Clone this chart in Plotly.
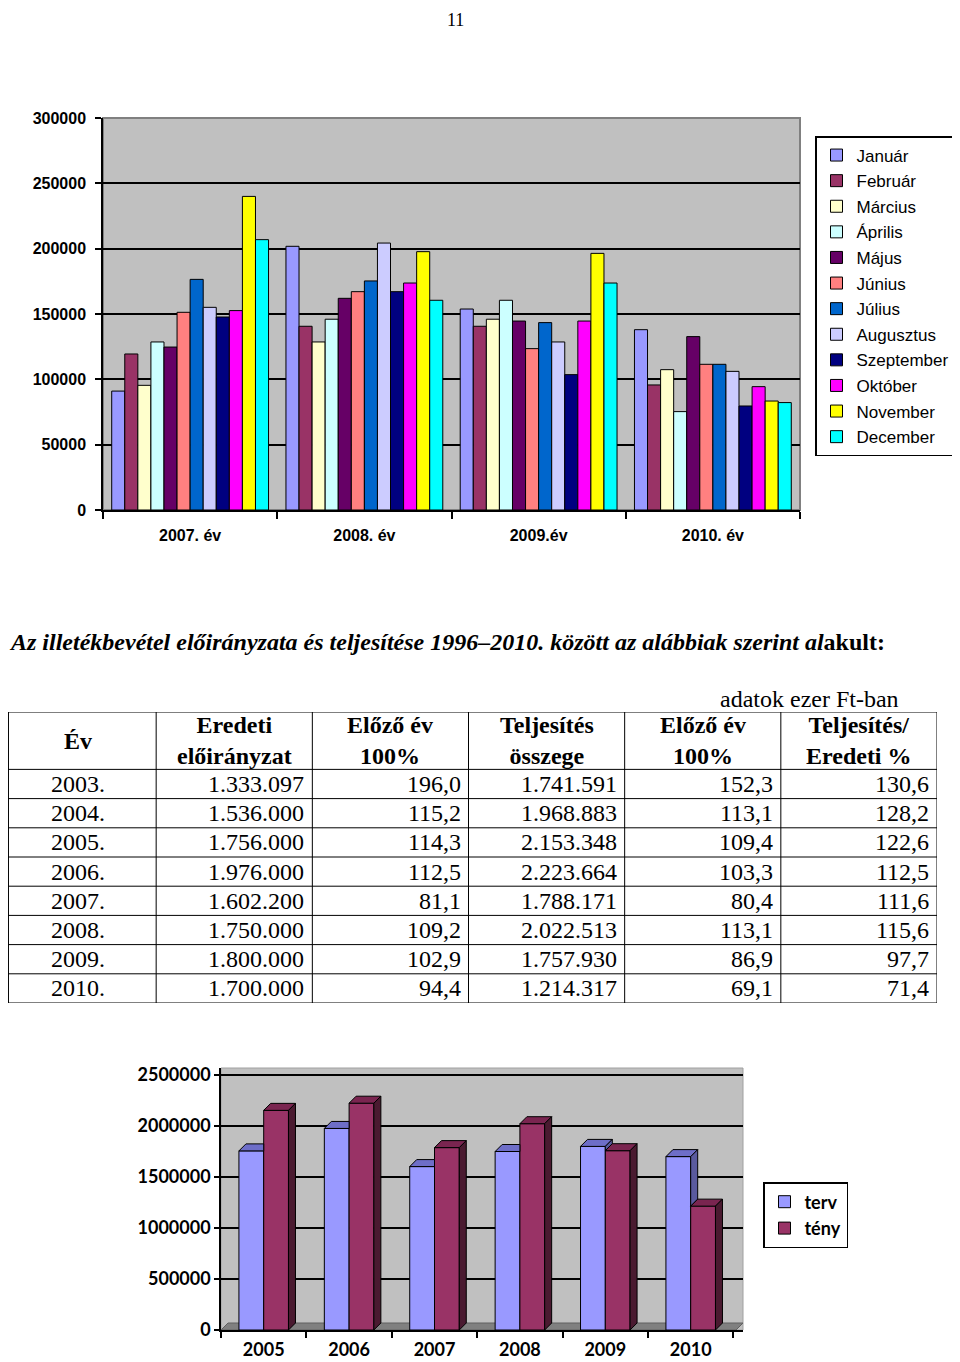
import plotly.graph_objects as go

# The page body has an 8px margin, so the figure is offset by 8px.
OFF = 8
FW, FH = 952, 1354


def px_x(x):
    return (x - OFF) / FW


def px_y(y):
    return 1 - (y - OFF) / FH


# ---------------- top chart data ----------------
months = ["Január", "Február", "Március", "Április", "Május", "Június",
          "Július", "Augusztus", "Szeptember", "Október", "November", "December"]
month_colors = ["#9999FF", "#993366", "#FFFFCC", "#CCFFFF", "#660066", "#FF8080",
                "#0066CC", "#CCCCFF", "#000080", "#FF00FF", "#FFFF00", "#00FFFF"]
groups_top = ["2007. év", "2008. év", "2009.év", "2010. év"]
v2007 = [91000, 119400, 95400, 128600, 124700, 151300, 176500, 155100, 147700, 152600, 240000, 206900]
v2008 = [201800, 140600, 128600, 146000, 162000, 167100, 175300, 204300, 167100, 173700, 197700, 160500]
v2009 = [153800, 140600, 146000, 160500, 144600, 123500, 143400, 128600, 103600, 144600, 196400, 173700]
v2010 = [138000, 95700, 107400, 75300, 132700, 111500, 111500, 106100, 79600, 94400, 83400, 82200]
top_ticks = [0, 50000, 100000, 150000, 200000, 250000, 300000]

# ---------------- table data ----------------
tbl_headers = ["<b>Év</b>", "<b>Eredeti<br>előirányzat</b>", "<b>Előző év<br>100%</b>",
               "<b>Teljesítés<br>összege</b>", "<b>Előző év<br>100%</b>", "<b>Teljesítés/<br>Eredeti %</b>"]
tbl_years = ["2003.", "2004.", "2005.", "2006.", "2007.", "2008.", "2009.", "2010."]
tbl_eredeti = ["1.333.097", "1.536.000", "1.756.000", "1.976.000", "1.602.200", "1.750.000", "1.800.000", "1.700.000"]
tbl_elozo1 = ["196,0", "115,2", "114,3", "112,5", "81,1", "109,2", "102,9", "94,4"]
tbl_telj = ["1.741.591", "1.968.883", "2.153.348", "2.223.664", "1.788.171", "2.022.513", "1.757.930", "1.214.317"]
tbl_elozo2 = ["152,3", "113,1", "109,4", "103,3", "80,4", "113,1", "86,9", "69,1"]
tbl_arany = ["130,6", "128,2", "122,6", "112,5", "111,6", "115,6", "97,7", "71,4"]
tbl_align = ["center", "right", "right", "right", "right", "right"]

# ---------------- bottom chart data ----------------
years_b = ["2005", "2006", "2007", "2008", "2009", "2010"]
terv = [1756000, 1976000, 1602200, 1750000, 1800000, 1700000]
teny = [2153348, 2223664, 1788171, 2022513, 1757930, 1214317]
bottom_ticks = [0, 500000, 1000000, 1500000, 2000000, 2500000]

serif = "Liberation Serif"
sans = "Liberation Sans"
lato = "Lato"

fig = go.Figure()

# ---- top chart bars ----
by_year = [v2007, v2008, v2009, v2010]
for i, m in enumerate(months):
    fig.add_trace(go.Bar(
        x=list(range(len(groups_top))), y=[yr[i] for yr in by_year], name=m,
        marker=dict(color=month_colors[i], line=dict(color="black", width=1)),
        xaxis="x", yaxis="y", legend="legend", legendgroup=m,
    ))

# ---- bottom chart bars ----
xs = list(range(len(years_b)))
bw = 0.29
fig.add_trace(go.Bar(x=xs, y=terv, width=bw, offset=-bw, name="terv",
                     marker=dict(color="#9999FF", line=dict(color="black", width=1)),
                     xaxis="x2", yaxis="y2", legend="legend2", legendgroup="terv"))
fig.add_trace(go.Bar(x=xs, y=teny, width=bw, offset=0, name="tény",
                     marker=dict(color="#993366", line=dict(color="black", width=1)),
                     xaxis="x2", yaxis="y2", legend="legend2", legendgroup="teny"))

# 3D faces derived from the data
x_per_px = 1 / 85.4
y_per_px = 2500000 / 255
dx = 7 * x_per_px
dy = 7 * y_per_px
x2_max = -0.5 + 522 / 85.4


def poly_trace(xx, yy, color):
    return go.Scatter(x=xx, y=yy, fill="toself", fillcolor=color, mode="lines",
                      line=dict(color="black", width=1), showlegend=False,
                      hoverinfo="skip", xaxis="x2", yaxis="y2")


tt_x, tt_y, ts_x, ts_y = [], [], [], []
for c, a, b in zip(xs, terv, teny):
    x0 = c - bw
    if b >= a:
        tt_x += [x0, x0 + dx, c, c, x0, None]
        tt_y += [a, a + dy, a + dy, a, a, None]
    else:
        tt_x += [x0, x0 + dx, c + dx, c, x0, None]
        tt_y += [a, a + dy, a + dy, a, a, None]
        ts_x += [c, c, c + dx, c + dx, c, None]
        ts_y += [b, a, a + dy, b + dy, b, None]
fig.add_trace(poly_trace(tt_x, tt_y, "#6E6EC8"))
if ts_x:
    fig.add_trace(poly_trace(ts_x, ts_y, "#5A5A9E"))

nt_x, nt_y, ns_x, ns_y = [], [], [], []
for c, b in zip(xs, teny):
    x1 = c + bw
    nt_x += [c, c + dx, x1 + dx, x1, c, None]
    nt_y += [b, b + dy, b + dy, b, b, None]
    ns_x += [x1, x1, x1 + dx, x1 + dx, x1, None]
    ns_y += [0, b, b + dy, dy, 0, None]
fig.add_trace(poly_trace(nt_x, nt_y, "#7A2550"))
fig.add_trace(poly_trace(ns_x, ns_y, "#4A1A30"))

# ---- table (drawn on its own hidden axes: x in column units, y in row units) ----
n_cols = len(tbl_headers)
n_rows = len(tbl_years)
col_px = 937 / n_cols           # column width in page pixels
row_px = 29                     # body row height in page pixels
hdr = 57 / row_px               # header height in row units
x3_min = OFF / col_px           # page x = 0 is hidden by the body margin

shapes = [
    # top chart wall
    dict(type="rect", xref="x domain", yref="y domain", x0=0, x1=1, y0=0, y1=1,
         fillcolor="#C0C0C0", line=dict(color="#808080", width=2), layer="below"),
    # bottom chart wall
    dict(type="rect", xref="x2 domain", yref="y2 domain", x0=0, x1=1, y0=0, y1=1,
         fillcolor="#C0C0C0", line=dict(color="#A0A0A0", width=1), layer="below"),
    # bottom chart floor
    dict(type="path", xref="x2", yref="y2", layer="below",
         path=f"M -0.5,0 L {-0.5 + dx},{dy} L {x2_max},{dy} L {x2_max - dx},0 Z",
         fillcolor="#808080", line=dict(color="#606060", width=1)),
]

line_k = dict(color="black", width=1)
for k in range(n_cols + 1):
    shapes.append(dict(type="line", xref="x3", yref="y3", x0=max(k, x3_min + 0.003), x1=max(k, x3_min + 0.003),
                       y0=0, y1=hdr + n_rows, line=line_k, layer="above"))
for r in [0] + [hdr + i for i in range(n_rows + 1)]:
    shapes.append(dict(type="line", xref="x3", yref="y3", x0=x3_min, x1=n_cols,
                       y0=r, y1=r, line=line_k, layer="above"))

annotations = [
    dict(text="11", x=px_x(455), y=1, xref="paper", yref="paper",
         showarrow=False, xanchor="center", yanchor="top",
         font=dict(family=serif, size=18, color="black")),
    dict(text="<b><i>Az illetékbevétel előirányzata és teljesítése 1996–2010. között az alábbiak szerint al</i>akult:</b>",
         x=px_x(7), y=px_y(642), xref="paper", yref="paper",
         showarrow=False, xanchor="left", yanchor="middle",
         font=dict(family=serif, size=24, color="black")),
    dict(text="adatok ezer Ft-ban", x=px_x(901), y=px_y(699), xref="paper", yref="paper",
         showarrow=False, xanchor="right", yanchor="middle",
         font=dict(family=serif, size=24, color="black")),
]

for k, h in enumerate(tbl_headers):
    annotations.append(dict(text=h, x=k + 0.5, y=hdr / 2, xref="x3", yref="y3",
                            showarrow=False, xanchor="center", yanchor="middle",
                            font=dict(family=serif, size=24, color="black")))
columns = [tbl_years, tbl_eredeti, tbl_elozo1, tbl_telj, tbl_elozo2, tbl_arany]
for k, col in enumerate(columns):
    for i, val in enumerate(col):
        if tbl_align[k] == "center":
            annotations.append(dict(text=val, x=k + 0.5, y=hdr + i + 0.5, xref="x3", yref="y3",
                                    showarrow=False, xanchor="center", yanchor="middle",
                                    font=dict(family=serif, size=24, color="black")))
        else:
            annotations.append(dict(text=val, x=k + 1, y=hdr + i + 0.5, xref="x3", yref="y3",
                                    showarrow=False, xanchor="right", yanchor="middle", xshift=-6,
                                    font=dict(family=serif, size=24, color="black")))

fig.update_layout(
    width=FW, height=FH, margin=dict(l=0, r=0, t=0, b=0, autoexpand=False),
    paper_bgcolor="white", plot_bgcolor="white",
    barmode="group", bargap=0.1, bargroupgap=0,
    showlegend=True,
    xaxis=dict(domain=[px_x(103), px_x(800)], range=[-0.5, 3.5], anchor="y",
               tickvals=list(range(4)), ticktext=groups_top,
               ticks="outside", ticklen=10, tickcolor="rgba(0,0,0,0)",
               minor=dict(tickvals=[-0.5, 0.5, 1.5, 2.5, 3.5], ticks="outside",
                          ticklen=7, tickcolor="black", tickwidth=1.5),
               showline=True, linecolor="black", linewidth=1.5, showgrid=False,
               tickfont=dict(family=sans, size=16, color="black", weight="bold"),
               automargin=False, fixedrange=True),
    yaxis=dict(domain=[px_y(510), px_y(118)], range=[0, 300000], anchor="x",
               tickvals=top_ticks, tickformat="d",
               ticks="outside", ticklen=6, tickcolor="black", tickwidth=1.5,
               ticklabelstandoff=6,
               showline=True, linecolor="black", linewidth=1.5,
               showgrid=True, gridcolor="black", gridwidth=1.5, zeroline=False,
               tickfont=dict(family=sans, size=16, color="black", weight="bold"),
               automargin=False, fixedrange=True),
    xaxis2=dict(domain=[px_x(221), px_x(743)], range=[-0.5, x2_max], anchor="y2",
                tickvals=xs, ticktext=years_b,
                ticks="outside", ticklen=3, tickcolor="rgba(0,0,0,0)",
                minor=dict(tickvals=[i - 0.5 for i in range(len(years_b) + 1)], ticks="outside",
                           ticklen=6, tickcolor="black", tickwidth=1.5),
                showline=True, linecolor="black", linewidth=1.5, showgrid=False,
                tickfont=dict(family=lato, size=18, color="black", weight="bold"),
                automargin=False, fixedrange=True),
    yaxis2=dict(domain=[px_y(1330), px_y(1068)], range=[0, 2500000 * 262 / 255], anchor="x2",
                tickvals=bottom_ticks, tickformat="d",
                ticks="outside", ticklen=5, tickcolor="black", tickwidth=1.5,
                showline=True, linecolor="black", linewidth=1.5,
                showgrid=True, gridcolor="black", gridwidth=1.5, zeroline=False,
                tickfont=dict(family=lato, size=18, color="black", weight="bold"),
                automargin=False, fixedrange=True),
    xaxis3=dict(domain=[0, px_x(937)], range=[x3_min, n_cols], anchor="y3",
                visible=False, showgrid=False, zeroline=False, fixedrange=True),
    yaxis3=dict(domain=[px_y(1003), px_y(712)], range=[hdr + n_rows, 0], anchor="x3",
                visible=False, showgrid=False, zeroline=False, fixedrange=True),
    legend=dict(x=px_x(815), y=px_y(136), xanchor="left", yanchor="top",
                bordercolor="black", borderwidth=1.5, bgcolor="white",
                font=dict(family=sans, size=17, color="black"),
                tracegroupgap=0.5, itemwidth=30, traceorder="grouped"),
    legend2=dict(x=px_x(763), y=px_y(1182), xanchor="left", yanchor="top",
                 bordercolor="black", borderwidth=1.5, bgcolor="white",
                 font=dict(family=lato, size=18, color="black", weight="bold"),
                 tracegroupgap=0, itemwidth=30, traceorder="grouped"),
    shapes=shapes,
    annotations=annotations,
)

fig.write_html("out.html")
